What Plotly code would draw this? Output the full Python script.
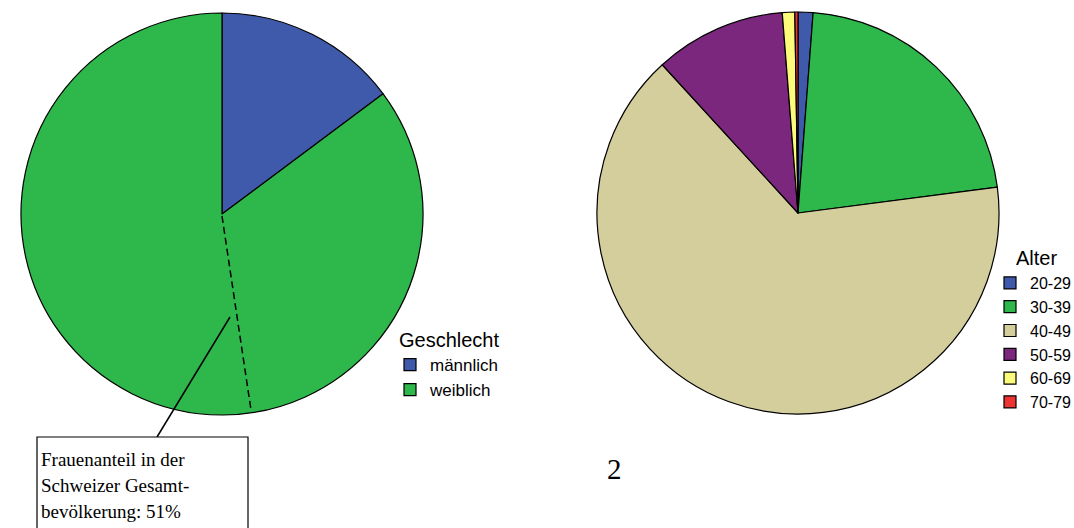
import plotly.graph_objects as go

W, H = 1074, 528

# Gender split (share in percent)
sex_labels = ["männlich", "weiblich"]
sex_values = [14.8, 85.2]
sex_colors = ["#3F5AAA", "#2EB84B"]

# Age groups (share in percent)
age_labels = ["20-29", "30-39", "40-49", "50-59", "60-69", "70-79"]
age_values = [1.2, 21.75, 65.25, 10.55, 1.0, 0.25]
age_colors = ["#3F5AAA", "#2EB84B", "#D4CE9C", "#7B277D", "#FBFA7A", "#EE3333"]


def px_x(x):
    return x / W


def px_y(y):
    return 1 - y / H


fig = go.Figure()

fig.add_trace(go.Pie(
    labels=sex_labels, values=sex_values, sort=False, direction="clockwise",
    rotation=0, textinfo="none", hoverinfo="label+percent",
    marker=dict(colors=sex_colors, line=dict(color="black", width=1.2)),
    domain=dict(x=[px_x(21), px_x(423)], y=[px_y(415), px_y(13)]),
    legend="legend",
))

fig.add_trace(go.Pie(
    labels=age_labels, values=age_values, sort=False, direction="clockwise",
    rotation=0, textinfo="none", hoverinfo="label+percent",
    marker=dict(colors=age_colors, line=dict(color="black", width=1.2)),
    domain=dict(x=[px_x(597), px_x(999)], y=[px_y(414), px_y(12)]),
    legend="legend2",
))

sans = "Liberation Sans, Arial, sans-serif"
serif_family = "Liberation Serif, Times New Roman, serif"

shapes = [
    # dashed reference line for the female share in the population
    dict(type="line", xref="paper", yref="paper",
         x0=px_x(222), y0=px_y(216), x1=px_x(251), y1=px_y(410),
         line=dict(color="black", width=1.5, dash="7px,4px")),
    # callout pointer
    dict(type="line", xref="paper", yref="paper",
         x0=px_x(230), y0=px_y(317), x1=px_x(157), y1=px_y(437),
         line=dict(color="black", width=1.5)),
    # callout box
    dict(type="rect", xref="paper", yref="paper",
         x0=px_x(37), y0=px_y(437), x1=px_x(248), y1=px_y(540),
         line=dict(color="black", width=1.2), fillcolor="white"),
]

serif = dict(family=serif_family, size=19, color="black")
annotations = []
for i, line in enumerate(["Frauenanteil in der", "Schweizer Gesamt-", "bevölkerung: 51%"]):
    annotations.append(dict(
        text=line, xref="paper", yref="paper", x=px_x(39), y=px_y(459 + 26 * i),
        xanchor="left", yanchor="middle", showarrow=False, font=serif))
annotations.append(dict(
    text="2", xref="paper", yref="paper", x=px_x(614), y=px_y(469),
    xanchor="center", yanchor="middle", showarrow=False,
    font=dict(family=serif_family, size=29, color="black")))

# legend headings
annotations.append(dict(
    text="Geschlecht", xref="paper", yref="paper", x=px_x(397), y=px_y(340),
    xanchor="left", yanchor="middle", showarrow=False,
    font=dict(family=sans, size=20, color="black")))
annotations.append(dict(
    text="Alter", xref="paper", yref="paper", x=px_x(1014), y=px_y(258),
    xanchor="left", yanchor="middle", showarrow=False,
    font=dict(family=sans, size=20, color="black")))

fig.update_layout(
    width=W, height=H,
    margin=dict(l=0, r=0, t=0, b=0, autoexpand=False),
    paper_bgcolor="white", plot_bgcolor="white",
    shapes=shapes, annotations=annotations,
    legend=dict(
        font=dict(family=sans, size=17, color="black"),
        x=px_x(390), y=px_y(347), xanchor="left", yanchor="top",
        bgcolor="rgba(0,0,0,0)", traceorder="normal",
    ),
    legend2=dict(
        font=dict(family=sans, size=16, color="black"),
        x=px_x(990), y=px_y(266), xanchor="left", yanchor="top",
        bgcolor="rgba(0,0,0,0)", traceorder="normal",
    ),
)

fig.write_html("out.html")
